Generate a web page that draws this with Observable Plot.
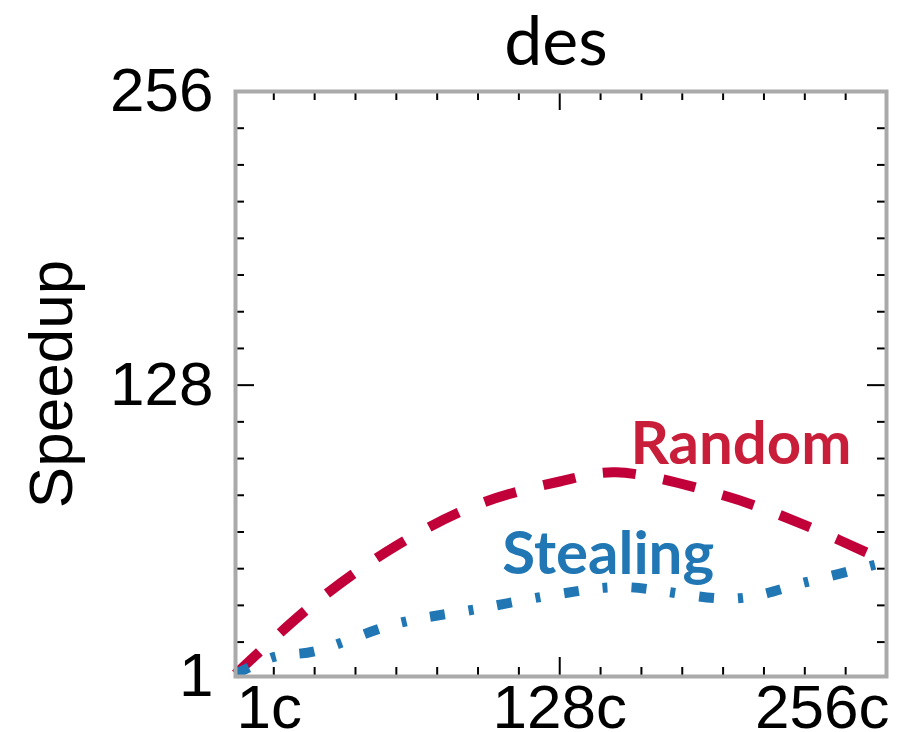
<!DOCTYPE html>
<html>
<head>
<meta charset="utf-8">
<script src="https://cdn.jsdelivr.net/npm/d3@7"></script>
<script src="https://cdn.jsdelivr.net/npm/@observablehq/plot@0.6"></script>
<style>
  html, body { margin: 0; padding: 0; background: #fff; }
</style>
</head>
<body>
<div id="chart"></div>
<script>
// ---- data ----
const title = "des";
const yLabel = "Speedup";

const randomCores   = [1, 32, 64, 96, 128, 150, 192, 224, 256];
const randomSpeedup = [2, 33, 58, 76, 86, 90, 80, 67, 51];

const stealingCores   = [1, 16, 32, 64, 96, 128, 152, 197, 224, 256];
const stealingSpeedup = [2, 9.5, 12, 24, 30.5, 37, 40, 35, 42, 51];

const seriesNames  = ["Random", "Stealing"];
const seriesLabelX = [199, 147];
const seriesLabelY = [102, 54];

const xTickValues = [1, 128, 256];
const xTickLabels = ["1c", "128c", "256c"];
const yTickValues = [1, 128, 256];
const yTickLabels = ["1", "128", "256"];
const minorTicks  = [16, 32, 48, 64, 80, 96, 112, 144, 160, 176, 192, 208, 224, 240];
const majorTicks  = [128];

// ---- build ----
const W = 910, H = 732;
const mL = 235, mR = 24, mT = 91, mB = 56;
const fw = W - mL - mR, fh = H - mT - mB;

const randomData = randomCores.map((c, i) => ({x: c, y: randomSpeedup[i]}));
const stealingData = stealingCores.map((c, i) => ({x: c, y: stealingSpeedup[i]}));
const labelData = seriesNames.map((n, i) => ({name: n, x: seriesLabelX[i], y: seriesLabelY[i]}));

const red = "#C1003A", redText = "#C81E3A";
const blue = "#2077B4";
const tickStyle = {stroke: "black", strokeWidth: 2};
const minorLen = 9, majorLen = 19;
const fs = 62;

const chart = Plot.plot({
  width: W,
  height: H,
  marginLeft: mL,
  marginRight: mR,
  marginTop: mT,
  marginBottom: mB,
  x: {domain: [1, 256], axis: null},
  y: {domain: [1, 256], axis: null},
  style: {fontFamily: "Liberation Sans, Arial, sans-serif", background: "white", overflow: "visible"},
  marks: [
    // ticks inward on four sides
    Plot.ruleX(minorTicks, {x: d => d, insetTop: fh - minorLen, ...tickStyle}),
    Plot.ruleX(minorTicks, {x: d => d, insetBottom: fh - minorLen, ...tickStyle}),
    Plot.ruleX(majorTicks, {x: d => d, insetTop: fh - majorLen, ...tickStyle}),
    Plot.ruleX(majorTicks, {x: d => d, insetBottom: fh - majorLen, ...tickStyle}),
    Plot.ruleY(minorTicks, {y: d => d, insetRight: fw - minorLen, ...tickStyle}),
    Plot.ruleY(minorTicks, {y: d => d, insetLeft: fw - minorLen, ...tickStyle}),
    Plot.ruleY(majorTicks, {y: d => d, insetRight: fw - majorLen, ...tickStyle}),
    Plot.ruleY(majorTicks, {y: d => d, insetLeft: fw - majorLen, ...tickStyle}),

    // series
    Plot.line(randomData, {x: "x", y: "y", stroke: red, strokeWidth: 10, strokeDasharray: "33,28", curve: "catmull-rom", strokeLinecap: "butt"}),
    Plot.line(stealingData, {x: "x", y: "y", stroke: blue, strokeWidth: 10, strokeDasharray: "15,24,5,24", curve: "catmull-rom", strokeLinecap: "butt"}),

    Plot.frame({stroke: "#aaaaaa", strokeWidth: 4}),

    // series labels
    Plot.text(labelData.slice(0, 1), {x: "x", y: "y", text: "name", fill: redText, fontFamily: "Lato", fontWeight: "bold", fontSize: 60}),
    Plot.text(labelData.slice(1), {x: "x", y: "y", text: "name", fill: blue, fontFamily: "Lato", fontWeight: "bold", fontSize: 60}),

    // y tick labels
    Plot.text(yTickValues, {y: d => d, text: (d, i) => yTickLabels[i], frameAnchor: "left", textAnchor: "end", lineAnchor: "middle", dx: -22, fontSize: fs, fill: "black"}),

    // x tick labels
    Plot.text([xTickValues[0]], {x: d => d, text: () => xTickLabels[0], frameAnchor: "bottom", textAnchor: "start", lineAnchor: "middle", dx: 1, dy: 32, fontSize: fs, fill: "black"}),
    Plot.text([xTickValues[1]], {x: d => d, text: () => xTickLabels[1], frameAnchor: "bottom", textAnchor: "middle", lineAnchor: "middle", dy: 32, fontSize: fs, fill: "black"}),
    Plot.text([xTickValues[2]], {x: d => d, text: () => xTickLabels[2], frameAnchor: "bottom", textAnchor: "end", lineAnchor: "middle", dx: 3, dy: 32, fontSize: fs, fill: "black"}),

    // y axis label
    Plot.text([yLabel], {frameAnchor: "left", textAnchor: "middle", lineAnchor: "middle", rotate: -90, dx: -183, fontSize: fs, fill: "black"}),

    // title
    Plot.text([title], {frameAnchor: "top", textAnchor: "middle", lineAnchor: "middle", dx: -5, dy: -48, fontFamily: "Lato", fontSize: 68, fill: "black"})
  ]
});

document.getElementById("chart").appendChild(chart);
</script>
</body>
</html>
